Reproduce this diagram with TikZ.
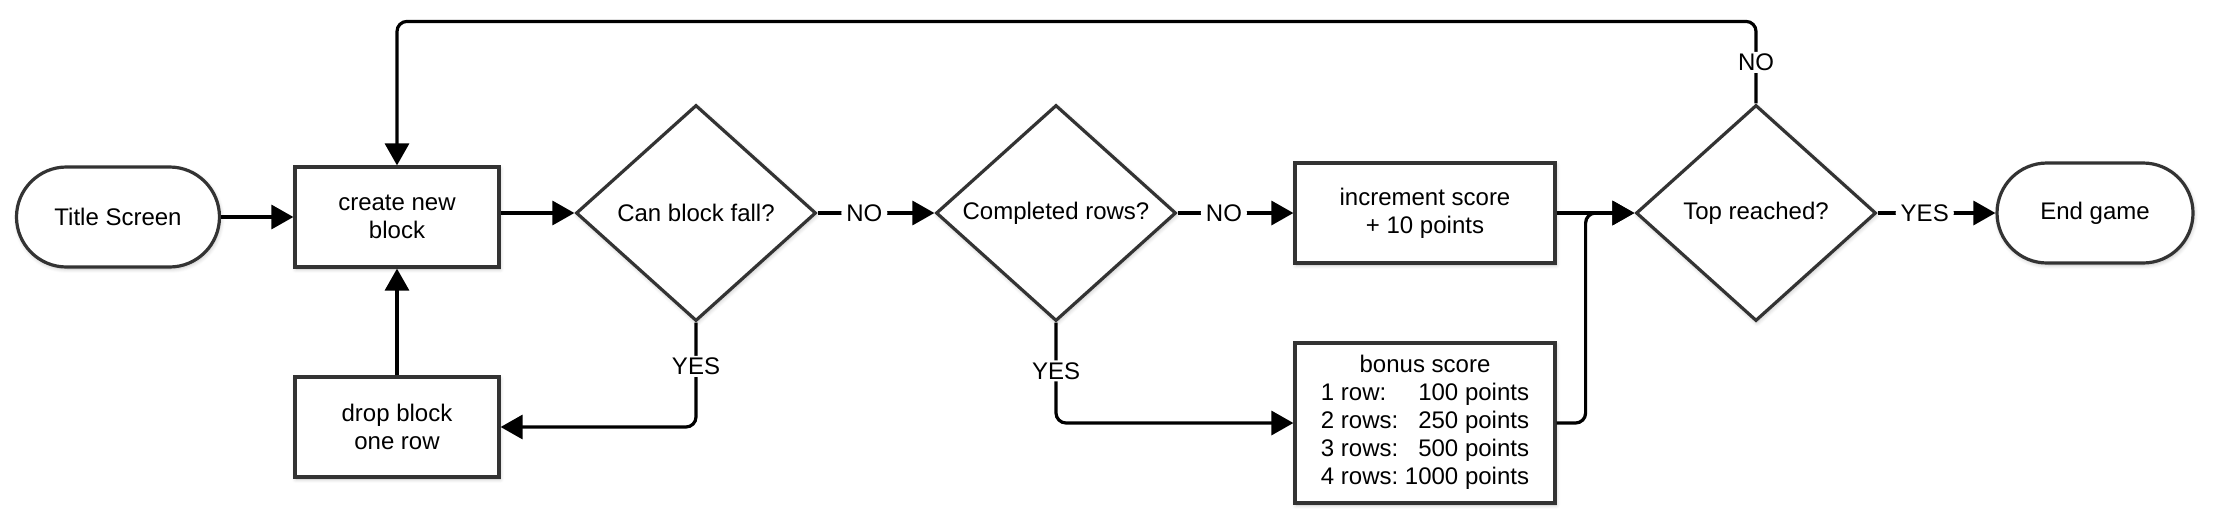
\documentclass[tikz,border=0pt]{standalone}
\usepackage{fontspec}
\setmainfont{Liberation Sans}
\usetikzlibrary{arrows.meta,shapes.geometric,shadows.blur}

\begin{document}
\begin{tikzpicture}[x=0.5pt,y=-0.5pt,>={Triangle[length=11pt,width=12pt]},
  font=\fontsize{12}{14}\selectfont,
  shape base/.style={draw=black!80,line width=1.6pt,fill=white,
    blur shadow={shadow xshift=0.5pt,shadow yshift=-1pt,shadow blur steps=6,shadow opacity=25}},
  terminal/.style={shape base,rectangle,rounded corners=25pt,minimum width=101.5pt,minimum height=50pt,inner sep=0pt},
  process/.style={shape base,rectangle,minimum width=102pt,minimum height=50pt,align=center,inner sep=0pt},
  decision/.style={shape base,diamond,minimum width=120pt,minimum height=108pt,inner sep=0pt},
  link/.style={->,line width=1.6pt,rounded corners=5pt},
  tag/.style={fill=white,inner xsep=2.5pt,inner ysep=1pt}]
  \useasboundingbox (0,0) rectangle (2221,526);
  \node[terminal] (title) at (118,217) {Title Screen};
  \node[process] (create) at (397,217) {create new\\block};
  \node[process] (drop) at (397,427) {drop block\\one row};
  \node[decision,label=center:{Can block fall?}] (fall) at (696,213) {};
  \node[decision,label=center:{Completed rows?}] (rows) at (1056,213) {};
  \node[process,minimum width=130pt] (incr) at (1425,213) {increment score\\+ 10 points};
  \node[process,minimum width=130pt,minimum height=80pt] (bonus) at (1425,423)
    {\begin{tabular}{@{}l@{\ }r@{}}
      \multicolumn{2}{@{}c@{}}{bonus score}\\
      1 row: & 100 points\\
      2 rows: & 250 points\\
      3 rows: & 500 points\\
      4 rows: & 1000 points
    \end{tabular}};
  \node[decision,label=center:{Top reached?}] (top) at (1756,213) {};
  \node[terminal,minimum width=98pt] (endgame) at (2095,213) {End game};
  \draw[link] (title) -- (create);
  \draw[link] (drop) -- (create);
  \draw[link] (create.east |- fall) -- (fall);
  \draw[link] (fall) -- node[tag,pos=0.4] {NO} (rows);
  \draw[link] (rows) -- node[tag,pos=0.4] {NO} (incr);
  \draw[link] (fall) |- node[tag,pos=0.21] {YES} (drop);
  \draw[link] (rows) |- node[tag,pos=0.24] {YES} (bonus);
  \draw[link] (incr) -- (top);
  \draw[link] (bonus) -| ([xshift=14.5pt]incr.east) -- (top);
  \draw[link] (top.north) -- node[tag] {NO} ++(0,-82) -| (create);
  \draw[link] (top) -- node[tag,pos=0.4] {YES} (endgame);
\end{tikzpicture}
\end{document}
